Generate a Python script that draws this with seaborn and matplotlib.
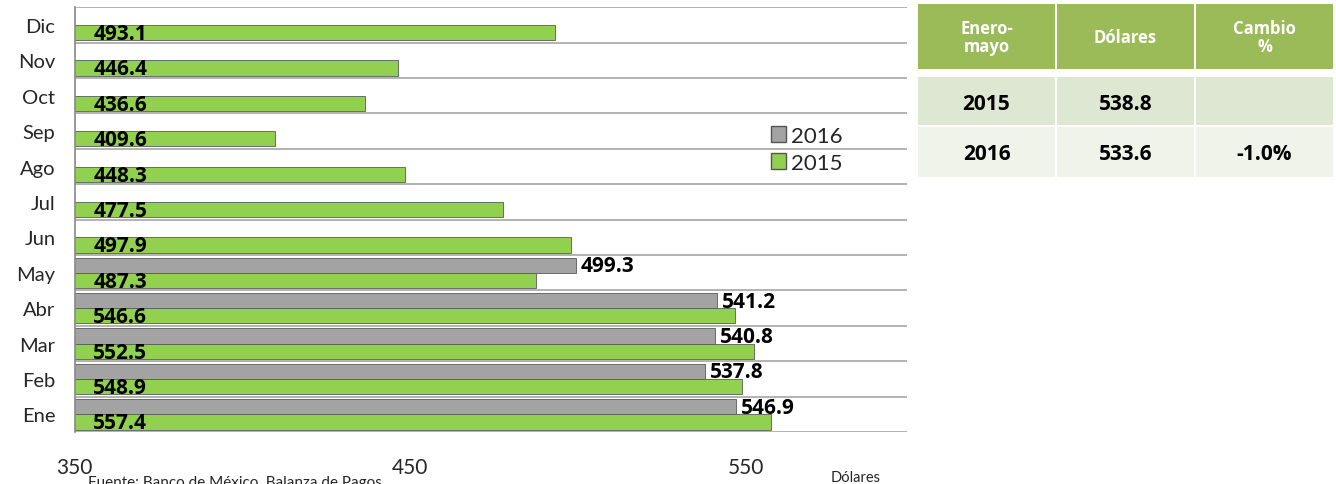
import pandas as pd
import matplotlib.pyplot as plt
import seaborn as sns
from matplotlib.patches import Patch, Rectangle

# Datos: precio promedio mensual (dólares)
meses = ['Ene', 'Feb', 'Mar', 'Abr', 'May', 'Jun', 'Jul', 'Ago', 'Sep', 'Oct', 'Nov', 'Dic']
valores_2015 = [557.4, 548.9, 552.5, 546.6, 487.3, 497.9, 477.5, 448.3, 409.6, 436.6, 446.4, 493.1]
valores_2016 = [546.9, 537.8, 540.8, 541.2, 499.3]

tabla_encabezado = ['Enero-\nmayo', 'Dólares', 'Cambio\n%']
tabla_filas = [['2015', '538.8', ''], ['2016', '533.6', '-1.0%']]

VERDE = '#92D050'
GRIS = '#A3A3A3'

filas = []
for i, m in enumerate(meses):
    filas.append({'Mes': m, 'Año': '2015', 'Valor': valores_2015[i]})
    if i < len(valores_2016):
        filas.append({'Mes': m, 'Año': '2016', 'Valor': valores_2016[i]})
df = pd.DataFrame(filas)

sns.set_theme(style='white')
plt.rcParams['font.family'] = ['Lato', 'DejaVu Sans']
NEGRITA = ['Open Sans', 'DejaVu Sans']

fig = plt.figure(figsize=(13.36, 4.85), dpi=100)
ax = fig.add_axes([0.056, 0.107, 0.623, 0.876])

orden = meses[::-1]
sns.barplot(data=df, x='Valor', y='Mes', hue='Año', order=orden, hue_order=['2016', '2015'],
            palette={'2016': GRIS, '2015': VERDE}, orient='h', width=0.86, saturation=1,
            edgecolor='#5a5a5a', linewidth=0.6, legend=False, ax=ax)

ax.set_xlim(350, 598)
ax.set_ylim(len(meses) - 0.5, -0.5)
ax.set_xticks([350, 450, 550])
ax.set_xlabel('')
ax.set_ylabel('')
ax.tick_params(axis='x', labelsize=15, pad=18, length=0)
ax.tick_params(axis='y', labelsize=14.5, length=0, pad=14)

# líneas de división entre meses
ax.set_yticks([i + 0.5 for i in range(-1, len(meses))], minor=True)
ax.tick_params(axis='y', which='minor', length=8, color='#888888', width=1.2, direction='out')
ax.grid(True, which='minor', axis='y', color='#a6a6a6', linewidth=1.2)
ax.set_axisbelow(True)
for s in ['top', 'right', 'bottom']:
    ax.spines[s].set_visible(False)
ax.spines['left'].set_color('#888888')
ax.spines['left'].set_linewidth(1.2)

# etiquetas de valores
for i, m in enumerate(orden):
    idx = meses.index(m)
    ax.text(355.5, i + 0.24, f'{valores_2015[idx]:.1f}', fontsize=15, fontweight='bold',
            family=NEGRITA, va='center', ha='left', color='black')
    if idx < len(valores_2016):
        ax.text(valores_2016[idx] + 1.5, i - 0.2, f'{valores_2016[idx]:.1f}', fontsize=15,
                fontweight='bold', family=NEGRITA, va='center', ha='left', color='black')

handles = [Patch(facecolor=GRIS, edgecolor='#555555'), Patch(facecolor=VERDE, edgecolor='#555555')]
fig.legend(handles, ['2016', '2015'], loc='center left', bbox_to_anchor=(0.562, 0.69),
           frameon=False, fontsize=16, handlelength=0.7, handleheight=0.7,
           handletextpad=0.2, labelspacing=0.3)

fig.text(0.622, 0.015, 'Dólares', fontsize=10.5, ha='left', va='center')
fig.text(0.066, 0.018, 'Fuente: Banco de México, Balanza de Pagos.', fontsize=11, ha='left', va='top')

# tabla resumen
W, H = 1336, 485
cols_x = [918, 1057, 1196]
col_w = 137
filas_y = [(5, 70), (78, 126), (128, 178)]
colores = ['#9BBB59', '#DEE7D1', '#EFF3EA']
for r, (y0, y1) in enumerate(filas_y):
    textos = tabla_encabezado if r == 0 else tabla_filas[r - 1]
    for c, x0 in enumerate(cols_x):
        fig.patches.append(Rectangle((x0 / W, 1 - y1 / H), col_w / W, (y1 - y0) / H,
                                     transform=fig.transFigure, facecolor=colores[r],
                                     edgecolor='none'))
        if r == 0:
            fig.text((x0 + col_w / 2) / W, 1 - (y0 + 33) / H, textos[c], fontsize=12,
                     fontweight='bold', family=NEGRITA, color='white', ha='center',
                     va='center', linespacing=1.05)
        else:
            fig.text((x0 + col_w / 2) / W, 1 - ((y0 + y1) / 2 + 2) / H, textos[c], fontsize=15,
                     fontweight='bold', family=NEGRITA, color='black', ha='center', va='center')

fig.savefig('out.png', dpi=100)
